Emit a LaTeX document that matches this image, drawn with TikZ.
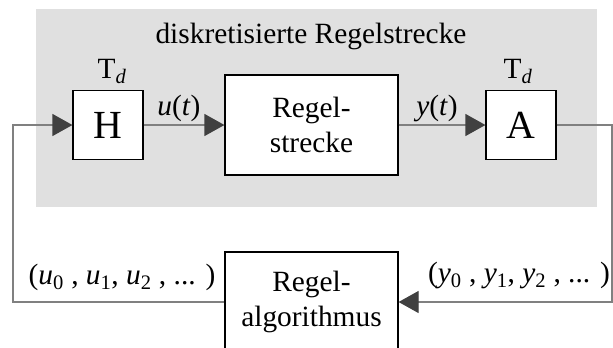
\documentclass[tikz,border=0pt]{standalone}
\usepackage{fontspec}
\setmainfont{Liberation Serif}
\usetikzlibrary{arrows.meta}
\definecolor{areagray}{HTML}{E0E0E0}
\definecolor{linegray}{HTML}{808080}
\definecolor{tipgray}{HTML}{404040}

\begin{document}
\begin{tikzpicture}[x=1bp,y=-1bp,
  every node/.style={font=\fontsize{29.5}{35}\selectfont},
  block/.style={draw=black,fill=white,line width=1.2bp,align=center,inner sep=0pt},
  small/.style={block,minimum width=70bp,minimum height=69bp,font=\fontsize{40}{42}\selectfont},
  big/.style={block,minimum width=173bp,minimum height=100bp},
  sig/.style={draw=linegray,line width=1.2bp,-{Triangle[length=20bp,width=22bp,color=tipgray]}}]
  \useasboundingbox (0,0) rectangle (613,347);
  \fill[areagray] (36,9) rectangle (597,207);
  \node[anchor=base] (title) at (311,43) {diskretisierte Regelstrecke};
  \node[small] (H) at (108,125) {H};
  \node[big] (S) at (311.5,125) {Regel-\\strecke};
  \node[small] (A) at (521,125) {A};
  \node[big] (R) at (311.5,302) {Regel-\\algorithmus};
  \node[anchor=base] (tdh) at (112,78) {T\textsubscript{\textit{d}}};
  \node[anchor=base] (tda) at (518,78) {T\textsubscript{\textit{d}}};
  \node[anchor=base] (ut) at (179,115) {\textit{u}(\textit{t})};
  \node[anchor=base] (yt) at (437,115) {\textit{y}(\textit{t})};
  \node[anchor=base] (useq) at (122,284)
    {(\textit{u}\textsubscript{0} , \textit{u}\textsubscript{1}, \textit{u}\textsubscript{2} , ... )};
  \node[anchor=base] (yseq) at (519,282)
    {(\textit{y}\textsubscript{0} , \textit{y}\textsubscript{1}, \textit{y}\textsubscript{2} , ... )};
  \coordinate (tl) at (13,125);
  \coordinate (bl) at (13,302);
  \coordinate (tr) at (612,125);
  \coordinate (br) at (612,302);
  \draw[sig] (H) -- (S);
  \draw[sig] (S) -- (A);
  \draw[sig] (A.east) -- (tr) -- (br) -- (R.east);
  \draw[sig] (R.west) -- (bl) -- (tl) -- (H.west);
\end{tikzpicture}
\end{document}
